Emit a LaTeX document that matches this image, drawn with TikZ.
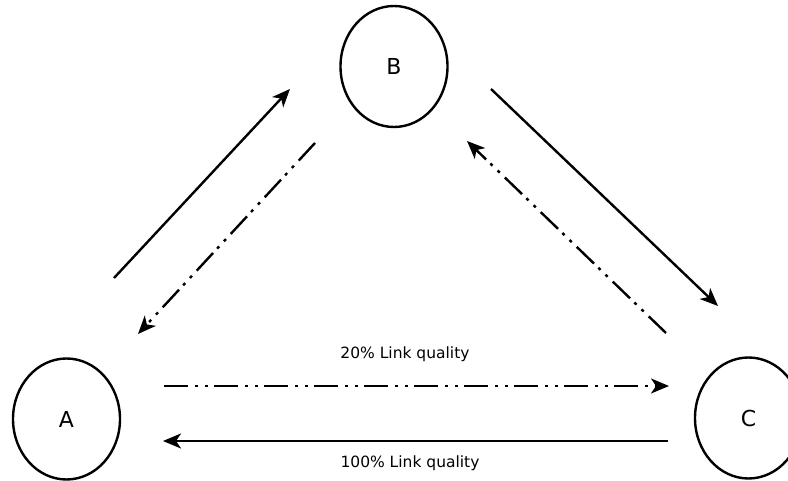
\documentclass[tikz,border=0pt]{standalone}
\usepackage{fontspec}
\setmainfont{DejaVu Sans}
\usetikzlibrary{shapes.geometric,arrows.meta}

\tikzset{
  station/.style={ellipse, draw, line width=2.4pt, minimum width=107pt,
                  minimum height=121pt, inner sep=0pt, font=\fontsize{22}{26}\selectfont},
  tip/.style={-{Stealth[length=18pt,width=15pt,inset=5pt]}},
  strong/.style={line width=2.4pt, tip},
  weak/.style={line width=2.4pt, line cap=butt,
               dash pattern=on 24pt off 7pt on 3pt off 7pt on 3pt off 6pt, tip},
  quality/.style={font=\fontsize{15.5}{18}\selectfont}
}

\begin{document}
\begin{tikzpicture}[x=1pt,y=-1pt]
  \useasboundingbox (0,0) rectangle (788,481);
  \clip (0,0) rectangle (788,481);

  % the three stations
  \node[station] (A) at (66.5,419) {A};
  \node[station] (B) at (394,66.5) {B};
  \node[station] (C) at (748.5,418) {C};

  % link end points
  \coordinate (ab1) at (114,278);  \coordinate (ab2) at (290,89);
  \coordinate (ba1) at (315,143);  \coordinate (ba2) at (138,334);
  \coordinate (bc1) at (491,89);   \coordinate (bc2) at (718,306);
  \coordinate (cb1) at (666,333);  \coordinate (cb2) at (467,141);
  \coordinate (ac1) at (164,386);  \coordinate (ac2) at (669,386);
  \coordinate (ca1) at (668,441);  \coordinate (ca2) at (163,441);

  % links
  \draw[strong] (ab1) -- (ab2);
  \draw[weak]   (ba1) -- (ba2);
  \draw[strong] (bc1) -- (bc2);
  \draw[weak]   (cb1) -- (cb2);
  \draw[weak]   (ac1) -- (ac2);
  \draw[strong] (ca1) -- (ca2);

  % link quality labels
  \node[quality] (q20)  at (405,354) {20\% Link quality};
  \node[quality] (q100) at (410,463) {100\% Link quality};
\end{tikzpicture}
\end{document}
